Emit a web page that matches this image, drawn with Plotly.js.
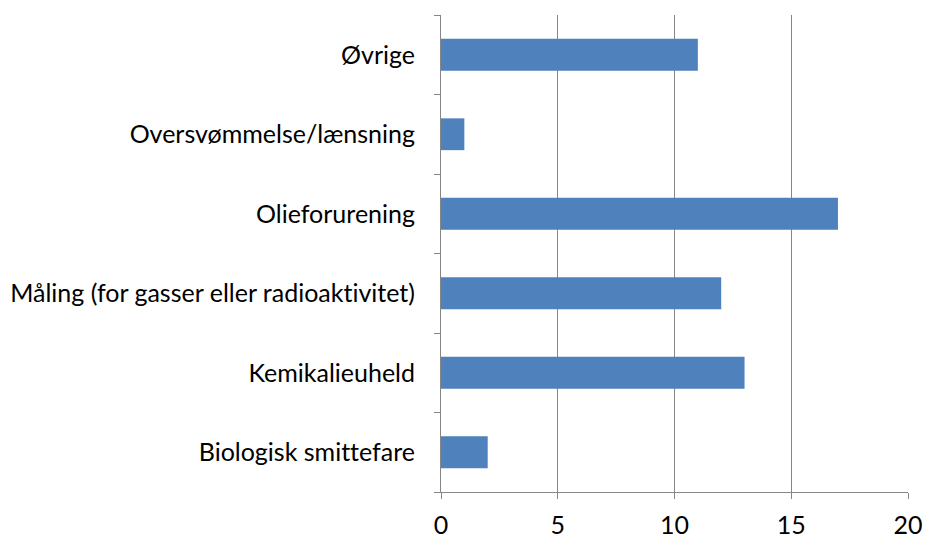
<!DOCTYPE html>
<html><head><meta charset="utf-8">
<script src="https://cdn.plot.ly/plotly-3.0.1.min.js"></script>
<style>body{margin:0;padding:0;background:#fff}#c{width:925px;height:538px}
#c text{font-variant-ligatures:none;font-feature-settings:"liga" 0,"clig" 0;}</style>
</head><body><div id="c"></div>
<script>
const categories = ["Biologisk smittefare","Kemikalieuheld","Måling (for gasser eller radioaktivitet)","Olieforurening","Oversvømmelse/lænsning","Øvrige"];
const values = [2,13,12,17,1,11];
const xTicks = [0,5,10,15,20];

const trace = {type:'bar', orientation:'h', y:categories, x:values, marker:{color:'#4F81BD'}, hoverinfo:'none'};
const layout = {
  width:925, height:538,
  margin:{l:441, r:17, t:15, b:46, pad:0},
  paper_bgcolor:'#fff', plot_bgcolor:'#fff',
  bargap:0.6,
  showlegend:false,
  font:{family:'Lato, Carlito, Calibri, sans-serif', size:25, color:'#000'},
  xaxis:{range:[0,20], tickvals:xTicks, ticktext:xTicks.map(String), showgrid:true, gridcolor:'#868686', gridwidth:1,
    showline:true, linecolor:'#868686', linewidth:1, ticks:'outside', ticklen:6, tickcolor:'#868686', ticklabelstandoff:5, zeroline:false, fixedrange:true},
  yaxis:{type:'category', categoryorder:'array', categoryarray:categories, showgrid:false, showline:true, linecolor:'#868686', linewidth:1,
    ticks:'outside', tickson:'boundaries', ticklen:6, tickcolor:'#868686', ticklabelstandoff:20, zeroline:false, fixedrange:true}
};
Plotly.newPlot('c',[trace],layout,{displayModeBar:false, staticPlot:true});
</script></body></html>
